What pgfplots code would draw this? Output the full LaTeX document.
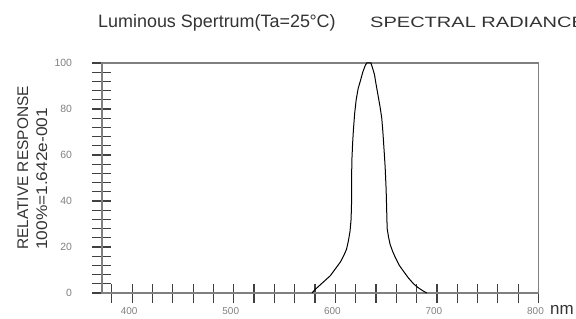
\documentclass[border=0pt]{standalone}
\usepackage{fontspec}
\setmainfont{Liberation Sans}
\usepackage{pgfplots}
\pgfplotsset{compat=1.18}
\begin{document}
\begin{tikzpicture}[x=1bp,y=1bp]
\useasboundingbox (0,0) rectangle (576,318);
\begin{axis}[
  at={(101.7bp,25bp)}, anchor=south west,
  scale only axis, width=436.8bp, height=230bp,
  xmin=370, xmax=800, ymin=0, ymax=100,
  xtick={400,500,...,800},
  minor xtick={380,400,...,800},
  ytick={0,20,...,100},
  minor ytick={4,8,...,96},
  xtick pos=lower, ytick pos=lower,
  tick align=center,
  major tick length=19bp, minor tick length=19bp,
  every tick/.style={black!75, line width=1.2bp},
  axis line style={black!50, line width=1.8bp},
  /pgf/number format/assume math mode=true,
  xticklabel style={anchor=center, yshift=-9bp, xshift=-3bp, text=black!50, font=\fontsize{10}{11}\selectfont},
  yticklabel style={anchor=east, inner sep=0pt, xshift=-20bp, text=black!50, font=\fontsize{10.5}{11}\selectfont},
]
\addplot[black, line width=1bp] coordinates {
(577,0) (580,1.5) (585,3.5) (590,5.5) (595,7.5) (600,10.5) (605,13.5) (608,16)
(611,19) (613,23) (614.5,27) (615.5,32) (616,40) (616,50) (616.3,58) (617,65)
(617.8,71) (619,78) (620.5,84) (622.5,89) (624.5,92) (627,96) (629.5,99) (631,100)
(635,100) (636.5,98) (638.5,95) (640,91) (642,86) (644,81) (645.7,76) (646.8,70)
(648,62) (649,55) (650,45) (650.6,35) (651,28) (652.5,24) (654,21) (656.5,18)
(659,15.5) (663,12) (667,9.5) (672,6.5) (677,4) (681,2.5) (686,1) (690,0)
};
\end{axis}
\node[anchor=base west, inner sep=0pt, text=black!80, font=\fontsize{18}{21}\selectfont] at (98,291) {Luminous Spertrum(Ta=25\kern-0.5pt°C)};
\node[anchor=base west, inner sep=0pt, text=black!80, font=\fontsize{15}{18}\selectfont] at (370,291) {\scalebox{1.34}[1]{SPECTRAL RADIANCE}};
\node[rotate=90, anchor=base west, inner sep=0pt, text=black!80, font=\fontsize{15.5}{18}\selectfont] at (28,68) {RELATIVE RESPONSE};
\node[rotate=90, anchor=base west, inner sep=0pt, text=black!80, font=\fontsize{15.5}{18}\selectfont] at (47,68) {\scalebox{1.12}[1]{100\%=1.642e-001}};
\node[anchor=base west, inner sep=0pt, text=black!80, font=\fontsize{17}{20}\selectfont] at (550,4) {nm};
\end{tikzpicture}
\end{document}
